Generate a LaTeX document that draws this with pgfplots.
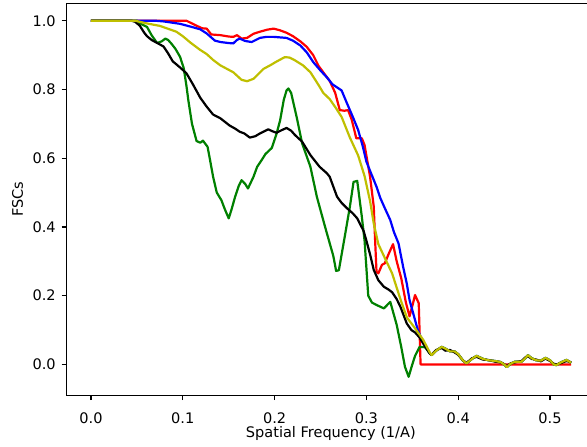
\documentclass[border=0pt]{standalone}
\usepackage{fontspec}
\setmainfont{DejaVu Sans}
\usepackage{pgfplots}
\pgfplotsset{compat=1.18}
\definecolor{mplolive}{rgb}{0.75,0.75,0}
\definecolor{mplgreen}{rgb}{0,0.5,0}
\begin{document}
\fontsize{10.9}{13}\selectfont
\begin{tikzpicture}
\begin{axis}[
  scale only axis, width=396.2pt, height=293.8pt,
  xmin=-0.0265, xmax=0.549, ymin=-0.0893, ymax=1.0506,
  xtick={0,0.1,0.2,0.3,0.4,0.5}, ytick={0,0.2,0.4,0.6,0.8,1.0},
  xtick pos=bottom, ytick pos=left,
  tick align=outside, major tick length=3.85pt,
  every tick/.style={line width=0.85pt, black},
  axis line style={line width=0.85pt, black},
  ticklabel style={font=\fontsize{10.9}{13}\selectfont, black},
  /pgf/number format/.cd, fixed, fixed zerofill, precision=1, assume math mode=true, /pgfplots/.cd,
  xticklabel style={anchor=base, inner sep=0pt, yshift=-17.5pt},
  yticklabel style={anchor=east, inner sep=0pt, xshift=-4.2pt},
  xlabel={Spatial Frequency (1/A)}, ylabel={FSCs},
  xlabel style={at={(axis description cs:0.5,-0.108)}, anchor=base, inner sep=0pt, font=\fontsize{10.9}{13}\selectfont},
  ylabel style={at={(axis description cs:-0.0828,0.5)}, anchor=base, inner sep=0pt, font=\fontsize{10.9}{13}\selectfont},
  every axis plot/.append style={line width=1.65pt, line join=round, no markers},
]
% red
\addplot[color=red] coordinates {
(0,1)(0.05,1)(0.104,1)(0.113,0.988)(0.121,0.978)(0.126,0.977)(0.131,0.960)(0.141,0.958)(0.150,0.954)(0.155,0.953)(0.159,0.958)(0.164,0.948)(0.170,0.950)(0.177,0.962)(0.184,0.968)(0.192,0.974)(0.199,0.977)(0.206,0.972)(0.213,0.965)(0.220,0.955)(0.228,0.940)(0.235,0.924)(0.242,0.900)(0.248,0.868)(0.253,0.850)(0.260,0.825)(0.266,0.790)(0.271,0.740)(0.276,0.738)(0.280,0.740)(0.284,0.712)(0.289,0.658)(0.295,0.658)(0.298,0.638)(0.304,0.546)(0.308,0.459)(0.3095,0.36)(0.311,0.27)(0.313,0.265)(0.317,0.290)(0.320,0.294)(0.324,0.320)(0.329,0.350)(0.333,0.300)(0.338,0.250)(0.343,0.180)(0.347,0.140)(0.350,0.170)(0.353,0.202)(0.357,0.178)(0.359,0.0)(0.523,0.0)
};
% blue
\addplot[color=blue] coordinates {
(0,1)(0.07,1)(0.079,0.998)(0.097,0.991)(0.111,0.981)(0.119,0.975)(0.126,0.963)(0.135,0.942)(0.141,0.938)(0.150,0.935)(0.155,0.934)(0.159,0.944)(0.162,0.948)(0.168,0.941)(0.175,0.938)(0.184,0.950)(0.191,0.953)(0.199,0.953)(0.213,0.950)(0.220,0.942)(0.228,0.928)(0.235,0.908)(0.242,0.880)(0.250,0.855)(0.257,0.835)(0.263,0.815)(0.268,0.806)(0.273,0.797)(0.278,0.765)(0.282,0.740)(0.286,0.715)(0.291,0.682)(0.296,0.635)(0.300,0.590)(0.306,0.550)(0.311,0.517)(0.315,0.485)(0.320,0.455)(0.326,0.420)(0.330,0.385)(0.335,0.352)(0.340,0.284)(0.344,0.235)(0.347,0.187)(0.353,0.129)(0.356,0.100)(0.360,0.075)(0.364,0.055)(0.369,0.032)
(0.371,0.027)(0.376,0.040)(0.382,0.051)(0.386,0.046)(0.391,0.038)(0.396,0.038)(0.400,0.030)(0.405,0.012)(0.409,0.003)(0.415,0.016)(0.420,0.025)(0.427,0.016)(0.433,0.012)(0.440,0.010)(0.446,0.007)(0.450,0.0)(0.453,-0.008)(0.457,0.002)(0.462,0.008)(0.469,0.008)(0.473,0.018)(0.476,0.027)(0.480,0.018)(0.485,0.012)(0.490,0.011)(0.495,0.019)(0.500,0.012)(0.504,0.0)(0.507,-0.002)(0.512,0.006)(0.518,0.013)(0.523,0.005)
};
% green
\addplot[color=mplgreen] coordinates {
(0,1)(0.05,1)(0.055,0.99)(0.061,0.982)(0.066,0.958)(0.072,0.935)(0.077,0.940)(0.081,0.948)(0.084,0.944)(0.088,0.932)(0.092,0.918)(0.097,0.895)(0.101,0.862)(0.104,0.810)(0.106,0.769)(0.110,0.700)(0.115,0.650)(0.119,0.645)(0.122,0.651)(0.127,0.633)(0.130,0.590)(0.133,0.546)(0.137,0.500)(0.142,0.478)(0.146,0.450)(0.150,0.425)(0.153,0.450)(0.157,0.488)(0.161,0.520)(0.164,0.536)(0.168,0.525)(0.171,0.512)(0.177,0.546)(0.181,0.575)(0.186,0.595)(0.190,0.612)(0.197,0.630)(0.202,0.670)(0.206,0.710)(0.210,0.770)(0.213,0.797)(0.215,0.803)(0.218,0.790)(0.221,0.755)(0.224,0.720)(0.230,0.643)(0.239,0.575)(0.246,0.488)(0.255,0.400)(0.264,0.315)(0.267,0.272)(0.270,0.274)(0.277,0.381)(0.282,0.459)(0.286,0.531)(0.290,0.534)(0.295,0.430)(0.298,0.360)(0.302,0.200)(0.306,0.180)(0.311,0.173)(0.319,0.163)(0.326,0.182)(0.333,0.115)(0.338,0.050)(0.342,-0.007)(0.346,-0.036)(0.350,0.0)(0.353,0.025)(0.358,0.051)(0.364,0.050)(0.369,0.032)
(0.371,0.027)(0.376,0.040)(0.382,0.051)(0.386,0.046)(0.391,0.038)(0.396,0.038)(0.400,0.030)(0.405,0.012)(0.409,0.003)(0.415,0.016)(0.420,0.025)(0.427,0.016)(0.433,0.012)(0.440,0.010)(0.446,0.007)(0.450,0.0)(0.453,-0.008)(0.457,0.002)(0.462,0.008)(0.469,0.008)(0.473,0.018)(0.476,0.027)(0.480,0.018)(0.485,0.012)(0.490,0.011)(0.495,0.019)(0.500,0.012)(0.504,0.0)(0.507,-0.002)(0.512,0.006)(0.518,0.013)(0.523,0.005)
};
% black
\addplot[color=black] coordinates {
(0,1)(0.044,1)(0.048,0.997)(0.053,0.986)(0.058,0.965)(0.061,0.955)(0.066,0.944)(0.073,0.934)(0.079,0.925)(0.084,0.905)(0.089,0.882)(0.097,0.864)(0.104,0.847)(0.111,0.815)(0.119,0.776)(0.126,0.750)(0.133,0.727)(0.141,0.716)(0.151,0.695)(0.157,0.686)(0.162,0.677)(0.167,0.672)(0.173,0.660)(0.179,0.664)(0.184,0.672)(0.193,0.684)(0.198,0.678)(0.202,0.674)(0.208,0.682)(0.213,0.688)(0.218,0.680)(0.222,0.668)(0.230,0.648)(0.239,0.609)(0.249,0.575)(0.257,0.556)(0.260,0.546)(0.268,0.488)(0.273,0.470)(0.279,0.454)(0.285,0.440)(0.290,0.425)(0.297,0.388)(0.300,0.360)(0.304,0.320)(0.308,0.275)(0.313,0.245)(0.319,0.226)(0.324,0.218)(0.328,0.210)(0.333,0.190)(0.337,0.168)(0.344,0.119)(0.349,0.100)(0.353,0.093)(0.358,0.078)(0.362,0.060)(0.369,0.032)
(0.371,0.028)(0.376,0.042)(0.382,0.048)(0.386,0.040)(0.391,0.042)(0.396,0.035)(0.400,0.028)(0.405,0.012)(0.409,0.004)(0.415,0.018)(0.420,0.022)(0.427,0.014)(0.433,0.013)(0.440,0.008)(0.446,0.006)(0.450,0.001)(0.453,-0.006)(0.457,0.003)(0.462,0.006)(0.469,0.010)(0.473,0.020)(0.476,0.024)(0.480,0.016)(0.485,0.014)(0.490,0.009)(0.495,0.017)(0.500,0.010)(0.504,0.002)(0.507,0.000)(0.512,0.004)(0.518,0.010)(0.523,0.006)
};
% olive
\addplot[color=mplolive] coordinates {
(0,1)(0.048,1)(0.061,0.992)(0.075,0.985)(0.093,0.968)(0.100,0.955)(0.108,0.937)(0.119,0.915)(0.126,0.903)(0.133,0.886)(0.141,0.870)(0.148,0.860)(0.155,0.850)(0.164,0.828)(0.170,0.824)(0.177,0.831)(0.188,0.860)(0.195,0.870)(0.202,0.881)(0.211,0.894)(0.216,0.893)(0.222,0.885)(0.231,0.870)(0.239,0.850)(0.245,0.825)(0.249,0.808)(0.253,0.790)(0.260,0.772)(0.267,0.745)(0.273,0.720)(0.282,0.660)(0.291,0.608)(0.298,0.548)(0.304,0.475)(0.308,0.410)(0.313,0.350)(0.320,0.310)(0.328,0.265)(0.337,0.190)(0.344,0.137)(0.353,0.105)(0.362,0.071)(0.369,0.035)
(0.371,0.027)(0.376,0.040)(0.382,0.051)(0.386,0.046)(0.391,0.038)(0.396,0.038)(0.400,0.030)(0.405,0.012)(0.409,0.003)(0.415,0.016)(0.420,0.025)(0.427,0.016)(0.433,0.012)(0.440,0.010)(0.446,0.007)(0.450,0.0)(0.453,-0.008)(0.457,0.002)(0.462,0.008)(0.469,0.008)(0.473,0.018)(0.476,0.027)(0.480,0.018)(0.485,0.012)(0.490,0.011)(0.495,0.019)(0.500,0.012)(0.504,0.0)(0.507,-0.002)(0.512,0.006)(0.518,0.013)(0.523,0.005)
};
\coordinate (ll) at (rel axis cs:0,0);
\end{axis}
\pgfresetboundingbox
\path ([shift={(-50pt,-38.25pt)}]ll) rectangle ([shift={(390.2pt,296.3pt)}]ll);
\end{tikzpicture}
\end{document}
